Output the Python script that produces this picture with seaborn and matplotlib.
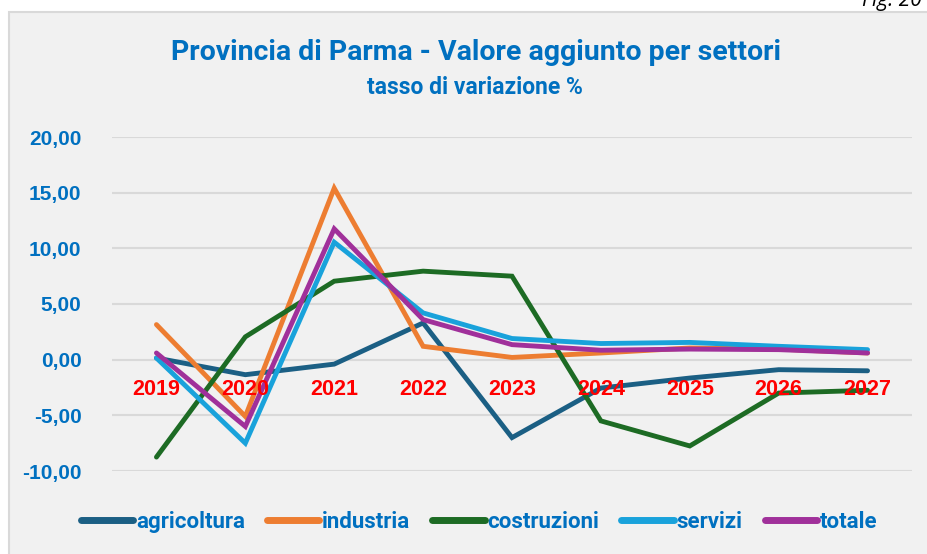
import matplotlib
matplotlib.use("Agg")
import matplotlib.pyplot as plt
import matplotlib.patches as mpatches
from matplotlib.lines import Line2D
import numpy as np
import pandas as pd
import seaborn as sns

# Data: annual % change of value added by sector, Provincia di Parma
anni = ["2019", "2020", "2021", "2022", "2023", "2024", "2025", "2026", "2027"]
agricoltura = [0.15, -1.35, -0.4, 3.3, -7.0, -2.55, -1.65, -0.9, -1.0]
industria = [3.15, -5.1, 15.4, 1.2, 0.2, 0.6, 1.05, 0.95, 0.6]
costruzioni = [-8.75, 2.05, 7.05, 7.95, 7.5, -5.5, -7.75, -3.0, -2.75]
servizi = [0.15, -7.5, 10.55, 4.2, 1.9, 1.45, 1.55, 1.2, 0.9]
totale = [0.6, -6.0, 11.75, 3.6, 1.35, 0.85, 0.95, 0.9, 0.6]

settori = ["agricoltura", "industria", "costruzioni", "servizi", "totale"]
serie = [agricoltura, industria, costruzioni, servizi, totale]
colori = ["#1b5f84", "#ed7d31", "#1d6b24", "#19a2db", "#a0309a"]
y_ticks = [-10, -5, 0, 5, 10, 15, 20]

rows = []
for nome, valori in zip(settori, serie):
    for i, v in enumerate(valori):
        rows.append({"idx": i, "valore": v, "settore": nome})
df = pd.DataFrame(rows)

sns.set_theme(style="white")
plt.rcParams["font.family"] = ["Liberation Sans", "DejaVu Sans"]

W, H = 928, 554
fig = plt.figure(figsize=(W / 100, H / 100), dpi=100)
fig.patch.set_facecolor("white")

# Chart panel background with light border
panel = mpatches.Rectangle((9 / W, -0.05), 1.1, 1 - 12 / H + 0.05,
                           transform=fig.transFigure, facecolor="#f1f1f1",
                           edgecolor="#d9d9d9", linewidth=1.5, zorder=-10)
fig.patches.append(panel)

fig.text(862 / W, 1 - 6 / H, "Fig. 20", fontsize=15, style="italic",
         color="black", ha="left", va="baseline",
         family=["Open Sans", "DejaVu Sans"])

narrow = ["Roboto", "DejaVu Sans"]
title_blue = "#0070c0"
fig.text(0.5 * (171 + 781) / W, 1 - 52 / H,
         "Provincia di Parma - Valore aggiunto per settori",
         fontsize=20.5, fontweight="bold", color=title_blue,
         ha="center", va="center", family=narrow)
fig.text(0.5 * (362 + 588) / W, 1 - 88 / H, "tasso di variazione %",
         fontsize=16.5, fontweight="bold", color=title_blue,
         ha="center", va="center", family=narrow)

ax = fig.add_axes([112 / W, 1 - 471 / H, 800 / W, (471 - 137) / H])
ax.set_facecolor("none")
ax.set_zorder(1)

sns.lineplot(data=df, x="idx", y="valore", hue="settore",
             hue_order=settori, palette=colori, linewidth=3.5,
             sort=False, legend=False, ax=ax)
for ln in ax.lines:
    ln.set_solid_capstyle("round")
    ln.set_solid_joinstyle("miter")

ax.set_xlim(-0.5, len(anni) - 0.5)
ax.set_ylim(-10, 20)
ax.set_yticks(y_ticks)
ax.set_yticklabels([f"{t:.2f}".replace(".", ",") for t in y_ticks],
                   fontsize=15, fontweight="bold", color=title_blue)
ax.tick_params(axis="y", length=0, pad=22)
ax.set_xticks([])
ax.set_xlabel("")
ax.set_ylabel("")
for s in ax.spines.values():
    s.set_visible(False)
ax.grid(axis="y", color="#d9d9d9", linewidth=1.5, zorder=0)
ax.set_axisbelow(True)

# Year labels sit just below the zero line
for i, a in enumerate(anni):
    ax.text(i, -2.7, a, color="#ff0000", fontsize=15.5, fontweight="bold",
            ha="center", va="center", zorder=5)

handles = [Line2D([0], [0], color=c, linewidth=5, solid_capstyle="round")
           for c in colori]
leg = fig.legend(handles, settori, loc="center", ncol=5,
                 bbox_to_anchor=(0.5 * (78 + 880) / W, 1 - 522 / H),
                 frameon=False, handlelength=2.35, handletextpad=0.12,
                 columnspacing=1.0,
                 prop={"family": narrow, "weight": "bold", "size": 16})
for t in leg.get_texts():
    t.set_color(title_blue)

fig.savefig("out.png", dpi=100, facecolor="white")
